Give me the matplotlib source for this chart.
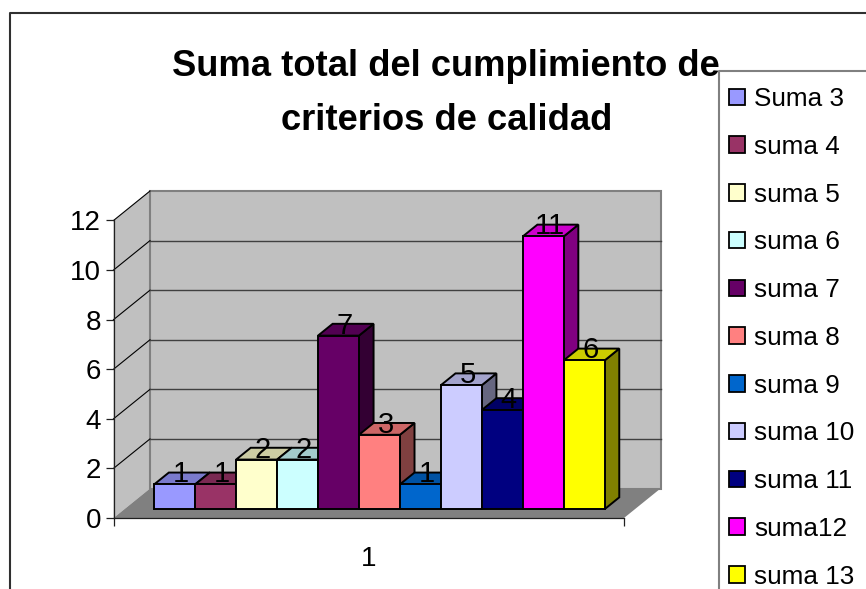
#!/usr/bin/env python3
"""Excel style 3D column chart, suma total de criterios de calidad."""

import matplotlib

matplotlib.use("Agg")
import matplotlib.pyplot as plt
import numpy as np
from matplotlib.patches import Patch, Polygon

W, H = 866, 589

SERIES = ["Suma 3", "suma 4", "suma 5", "suma 6", "suma 7", "suma 8",
          "suma 9", "suma 10", "suma 11", "suma12", "suma 13"]
VALUES = [1, 1, 2, 2, 7, 3, 1, 5, 4, 11, 6]
COLORS = ["#9999FF", "#993366", "#FFFFCC", "#CCFFFF", "#660066", "#FF8080",
          "#0066CC", "#CCCCFF", "#000080", "#FF00FF", "#FFFF00"]
Y_TICKS = [0, 2, 4, 6, 8, 10, 12]
CATEGORY = "1"

# oblique projection, depth d=0 is the front of the floor, d=1 the back wall
PX_X = 40.95
PX_Y = 24.8
WALL_DX = 36.5 / PX_X
WALL_DY = 29.5 / PX_Y
BAR_D0 = 0.30
BAR_D1 = 0.70
BAR_X0 = 0.727
X_MAX = 510.5 / PX_X
Y_MAX = 12


def proj(x, y, d=0.0):
    return (x + d * WALL_DX, y + d * WALL_DY)


def shade(color, k):
    rgb = np.array(matplotlib.colors.to_rgb(color))
    return tuple(rgb * k)


def face(ax, pts, fc, ec="black", lw=1.4, z=3):
    ax.add_patch(Polygon(pts, closed=True, facecolor=fc, edgecolor=ec, linewidth=lw,
                         joinstyle="miter", zorder=z, clip_on=False))


plt.rcParams["font.family"] = ["Liberation Sans", "DejaVu Sans"]

fig = plt.figure(figsize=(W / 100, H / 100), dpi=100)
fig.patch.set_facecolor("white")

# outer chart border, cut by the image on the right and at the bottom
fig.add_artist(plt.Line2D([10 / W, 10 / W, 1], [0, 1 - 13 / H, 1 - 13 / H],
                          color="#303030", lw=1.5))

ax = fig.add_axes([113.5 / W, 1 - 518 / H, 510.5 / W, 297.5 / H])
ax.set_xlim(0, X_MAX)
ax.set_ylim(0, Y_MAX)
ax.patch.set_visible(False)
for name in ["top", "right"]:
    ax.spines[name].set_visible(False)
ax.spines["left"].set_linewidth(0.9)
ax.spines["bottom"].set_linewidth(0.9)
ax.spines["left"].set_color("#202020")
ax.spines["bottom"].set_color("#202020")

# walls and floor
face(ax, [proj(0, 0), proj(0, 0, 1), proj(0, Y_MAX, 1), proj(0, Y_MAX)], "#C0C0C0", ec="none", z=0)
face(ax, [proj(0, 0, 1), proj(X_MAX, 0, 1), proj(X_MAX, Y_MAX, 1), proj(0, Y_MAX, 1)], "#C0C0C0", ec="#808080", lw=1.5, z=0)
face(ax, [proj(0, 0), proj(X_MAX, 0), proj(X_MAX, 0, 1), proj(0, 0, 1)], "#808080", ec="none", z=1)

for tick in Y_TICKS[1:]:
    x0, y0 = proj(0, tick)
    x1, y1 = proj(0, tick, 1)
    x2, y2 = proj(X_MAX, tick, 1)
    ax.plot([x0, x1], [y0, y1], color="black", lw=0.8, zorder=1, clip_on=False)
    if tick < Y_MAX:
        ax.plot([x1, x2], [y1, y2], color="#404040", lw=1.0, zorder=1, clip_on=False)

# columns, left to right so the neighbour overlaps the side face
for i, (val, col) in enumerate(zip(VALUES, COLORS)):
    xa = BAR_X0 + i
    xb = xa + 1
    face(ax, [proj(xb, 0, BAR_D0), proj(xb, 0, BAR_D1), proj(xb, val, BAR_D1), proj(xb, val, BAR_D0)],
         shade(col, 0.5), z=3 + i * 0.01)
    face(ax, [proj(xa, val, BAR_D0), proj(xb, val, BAR_D0), proj(xb, val, BAR_D1), proj(xa, val, BAR_D1)],
         shade(col, 0.8), z=3 + i * 0.01)
    face(ax, [proj(xa, 0, BAR_D0), proj(xb, 0, BAR_D0), proj(xb, val, BAR_D0), proj(xa, val, BAR_D0)],
         col, z=3 + i * 0.01)

for i, val in enumerate(VALUES):
    lx = proj(BAR_X0 + i + 0.5, val, 0.47)[0]
    ly = proj(BAR_X0 + i + 0.5, val, 0.64)[1]
    ax.text(lx, ly, str(val), ha="center", va="center", fontsize=21, color="black", zorder=5)

ax.set_xticks([0, X_MAX / 2, X_MAX])
ax.set_xticklabels(["", CATEGORY, ""])
ax.set_yticks(Y_TICKS)
ax.tick_params(axis="both", labelsize=20, length=6, width=0.9, color="#202020", pad=3)
ax.tick_params(axis="x", pad=14)
ax.xaxis.get_major_ticks()[1].tick1line.set_visible(False)

fig.text(446 / W, 1 - 66 / H, "Suma total del cumplimiento de", ha="center", va="center",
         fontsize=26.2, fontweight="bold", color="black")
fig.text(447 / W, 1 - 120 / H, "criterios de calidad", ha="center", va="center",
         fontsize=26.2, fontweight="bold", color="black")

# legend box runs off the image, only its top and left edges show
fig.add_artist(plt.Line2D([719 / W, 719 / W, 1], [0, 1 - 71 / H, 1 - 71 / H],
                          color="#808080", lw=1.5, zorder=4))
handles = [Patch(facecolor=c, edgecolor="black", linewidth=1.3) for c in COLORS]
leg = fig.legend(handles, SERIES, loc="upper left", bbox_to_anchor=(729 / W, 1 - 87 / H),
                 borderaxespad=0, fontsize=18.8, frameon=False,
                 handlelength=0.6, handleheight=0.6,
                 handletextpad=0.35, labelspacing=0.91, borderpad=0)

fig.savefig("out.png", dpi=100)
